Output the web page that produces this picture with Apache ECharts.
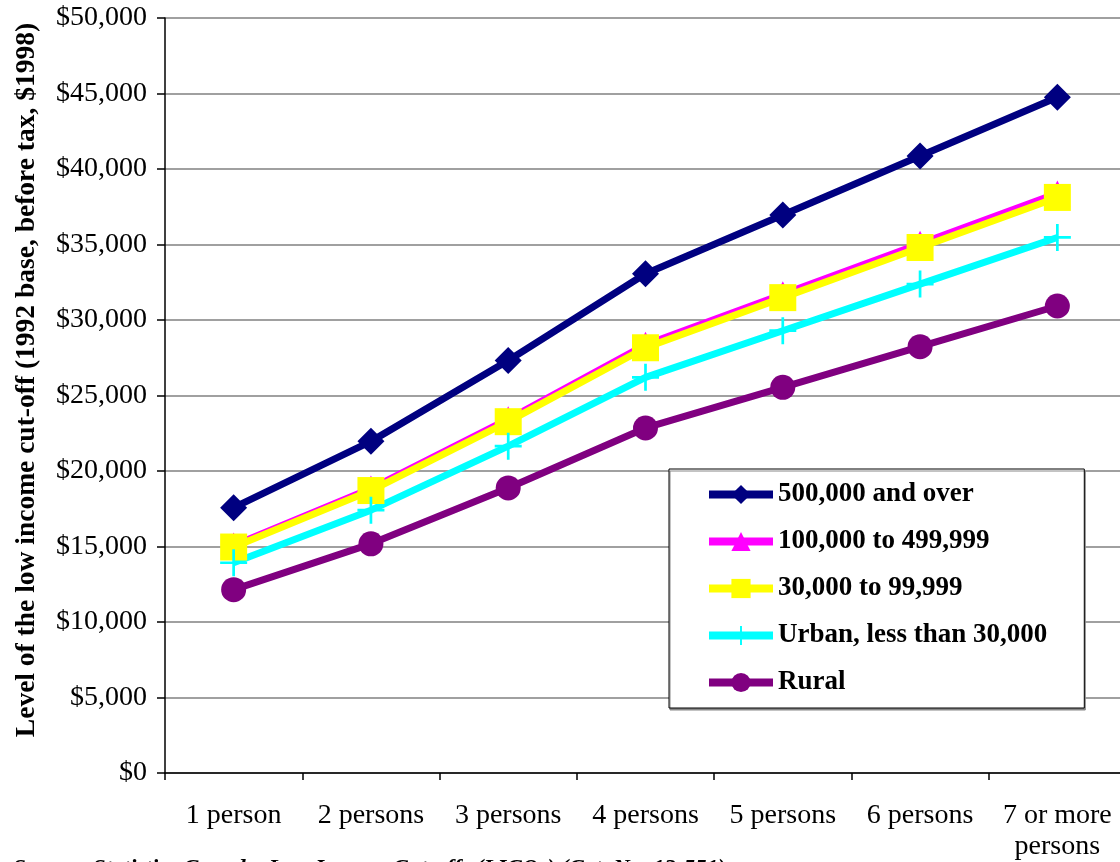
<!DOCTYPE html>
<html>
<head>
<meta charset="utf-8">
<style>
  html, body { margin: 0; padding: 0; background: #fff; overflow: hidden; }
  #chart { width: 1130px; height: 862px; }
</style>
<script src="https://cdn.jsdelivr.net/npm/echarts@6/dist/echarts.min.js"></script>
</head>
<body>
<div id="chart"></div>
<script>
// Household size categories
const categories = ['1 person', '2 persons', '3 persons', '4 persons', '5 persons', '6 persons', '7 or more\npersons'];

// Low income cut-offs by community size (1992 base, before tax, $1998)
const seriesNames = ['500,000 and over', '100,000 to 499,999', '30,000 to 99,999', 'Urban, less than 30,000', 'Rural'];
const over500k   = [17571, 21962, 27315, 33063, 36958, 40855, 44751];
const from100k   = [15070, 18837, 23429, 28359, 31701, 35043, 38385];
const from30k    = [14965, 18706, 23266, 28162, 31481, 34800, 38118];
const urbanUnder = [13924, 17405, 21647, 26202, 29290, 32379, 35467];
const rural      = [12142, 15178, 18877, 22849, 25542, 28235, 30928];

// Value axis ticks
const yMin = 0, yMax = 50000, yStep = 5000;

const yTitle = 'Level of the low income cut-off (1992 base, before tax, $1998)';
const sourceNote = 'Source: Statistics Canada, Low Income Cut-offs (LICOs) (Cat. No. 13-551)';

const serif = '"Liberation Serif", "Times New Roman", serif';
const plusPath = 'path://M9,0h2v20h-2z M0,9h20v2h-20z';

const styles = [
  { color: '#000080', symbol: 'diamond', size: 27 },
  { color: '#FF00FF', symbol: 'triangle', size: 26 },
  { color: '#FFFF00', symbol: 'rect', size: 27 },
  { color: '#00FFFF', symbol: plusPath, size: 27 },
  { color: '#800080', symbol: 'circle', size: 25 }
];
const values = [over500k, from100k, from30k, urbanUnder, rural];

const series = seriesNames.map((name, i) => ({
  name: name,
  type: 'line',
  data: values[i],
  symbol: styles[i].symbol,
  symbolSize: styles[i].size,
  showAllSymbol: true,
  lineStyle: { color: styles[i].color, width: 7 },
  itemStyle: { color: styles[i].color, borderWidth: 0 },
  emphasis: { disabled: true }
}));

const chart = echarts.init(document.getElementById('chart'), null, { renderer: 'canvas' });
chart.setOption({
  animation: false,
  backgroundColor: '#ffffff',
  grid: { left: 165, top: 18, width: 961, height: 757, containLabel: false },
  xAxis: {
    type: 'category',
    data: categories,
    boundaryGap: true,
    axisLine: { show: true, lineStyle: { color: '#000', width: 1.5 } },
    axisTick: { show: true, alignWithLabel: false, length: 7, lineStyle: { color: '#000', width: 1.5 } },
    axisLabel: { color: '#000', fontFamily: serif, fontSize: 28, lineHeight: 31, margin: 27, interval: 0 },
    splitLine: { show: false }
  },
  yAxis: {
    type: 'value',
    min: yMin, max: yMax, interval: yStep,
    axisLine: { show: true, lineStyle: { color: '#000', width: 1.5 } },
    axisTick: { show: true, length: 8, lineStyle: { color: '#000', width: 1.5 } },
    axisLabel: {
      color: '#000', fontFamily: serif, fontSize: 28, margin: 18,
      formatter: v => '$' + v.toLocaleString('en-US')
    },
    splitLine: { show: true, lineStyle: { color: '#808080', width: 1.5 } }
  },
  legend: {
    orient: 'vertical',
    left: 669, top: 469,
    padding: [12, 37, 12, 36],
    itemWidth: 64, itemHeight: 24, itemGap: 20,
    backgroundColor: '#fff',
    borderColor: '#000', borderWidth: 1,
    shadowColor: '#888', shadowOffsetX: 1, shadowOffsetY: 2, shadowBlur: 0,
    textStyle: { color: '#000', fontFamily: serif, fontSize: 27, lineHeight: 24, fontWeight: 'bold' },
    lineStyle: { width: 8 },
    data: seriesNames
  },
  graphic: [
    {
      type: 'text', x: 27, y: 380, rotation: Math.PI / 2,
      style: { text: yTitle, fill: '#000', font: 'bold 27.5px ' + serif, textAlign: 'center', textVerticalAlign: 'middle' }
    },
    {
      type: 'text', x: 13, y: 858,
      style: { text: sourceNote, fill: '#000', font: 'italic bold 23px ' + serif, textAlign: 'left', textVerticalAlign: 'top' }
    }
  ],
  series: series
});
</script>
</body>
</html>
